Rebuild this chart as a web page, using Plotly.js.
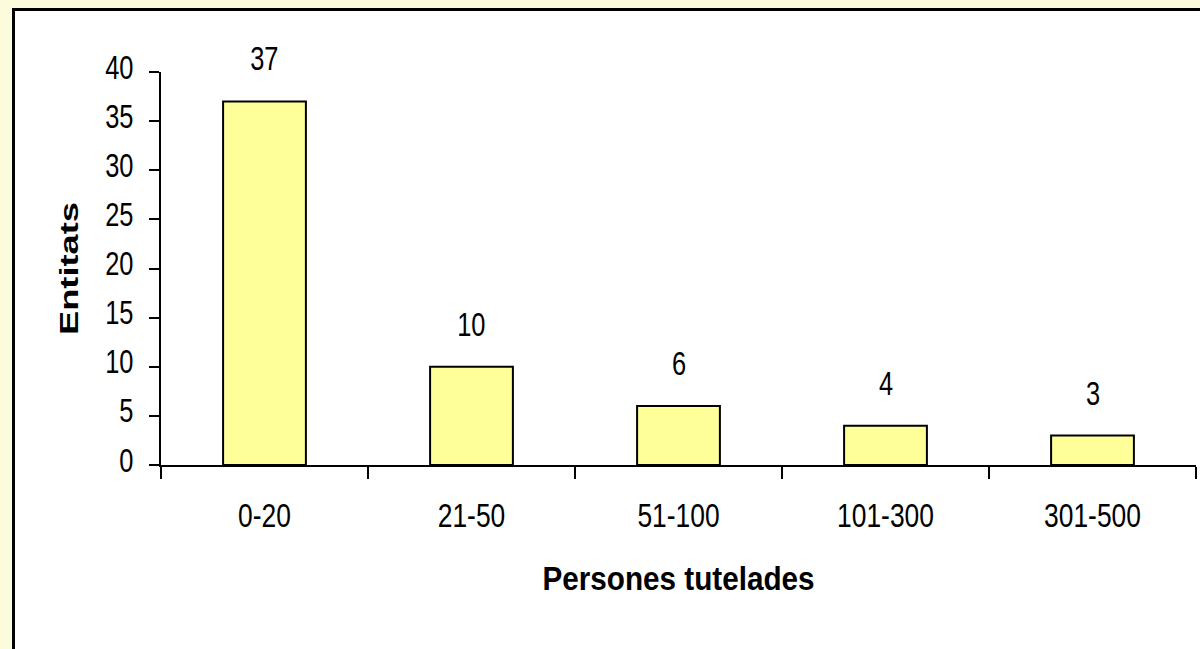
<!DOCTYPE html>
<html>
<head>
<meta charset="utf-8">
<script src="https://cdn.plot.ly/plotly-3.0.1.min.js"></script>
<style>
  html, body { margin: 0; padding: 0; width: 1200px; height: 649px; overflow: hidden; }
  body { background: #FCFCDC; position: relative; }
  #frame { position: absolute; left: 12px; top: 8px; width: 1300px; height: 800px;
           background: #ffffff; border-left: 3px solid #000; border-top: 3px solid #000; }
  #chart { position: absolute; left: 0; top: 0; width: 1200px; height: 649px; }
</style>
</head>
<body>
<div id="frame"></div>
<div id="chart"></div>
<script>
const categories = ["0-20", "21-50", "51-100", "101-300", "301-500"];
const entitats = [37, 10, 6, 4, 3];
const yTicks = [0, 5, 10, 15, 20, 25, 30, 35, 40];

const FONT = '"Liberation Sans", Arial, sans-serif';
const NUM_SIZE = 33;

const trace = {
  type: 'bar',
  x: categories,
  y: entitats,
  marker: { color: '#FFFF99', line: { color: '#000', width: 2 } },
  hoverinfo: 'none'
};

const annotations = categories.map((c, i) => ({
  x: c, y: entitats[i], xref: 'x', yref: 'y',
  text: String(entitats[i]),
  showarrow: false, yanchor: 'bottom', xanchor: 'center',
  yshift: 22,
  font: { family: FONT, size: NUM_SIZE, color: '#000' }
}));

const layout = {
  width: 1200, height: 649,
  paper_bgcolor: 'rgba(0,0,0,0)',
  plot_bgcolor: 'rgba(0,0,0,0)',
  margin: { l: 161, r: 4, t: 72, b: 184 },
  bargap: 0.6,
  showlegend: false,
  font: { family: FONT, color: '#000' },
  annotations: annotations,
  xaxis: {
    type: 'category',
    showline: true, linecolor: '#000', linewidth: 2,
    ticks: 'outside', ticklen: 12, tickwidth: 2, tickcolor: '#000',
    tickson: 'boundaries',
    ticklabelstandoff: 20,
    showgrid: false, zeroline: false,
    tickfont: { family: FONT, size: NUM_SIZE, color: '#000' },
    title: { text: 'Persones tutelades', font: { family: FONT, size: 33, color: '#000', weight: 'bold' }, standoff: 34 }
  },
  yaxis: {
    range: [0, 40],
    tickvals: yTicks,
    ticktext: yTicks.map(String),
    showline: true, linecolor: '#000', linewidth: 2,
    ticks: 'outside', ticklen: 10, tickwidth: 2, tickcolor: '#000',
    ticklabelstandoff: 9,
    ticklabelshift: -5,
    showgrid: false, zeroline: false,
    tickfont: { family: FONT, size: NUM_SIZE, color: '#000' },
    title: { text: 'Entitats', font: { family: FONT, size: 25, color: '#000', weight: 'bold' }, standoff: 11 }
  }
};

// Condense text horizontally (along its baseline) around its anchor point.
function condense(sel, sx) {
  document.querySelectorAll(sel).forEach(t => {
    const x = parseFloat(t.getAttribute('x') || 0);
    const y = parseFloat(t.getAttribute('y') || 0);
    const prev = t.getAttribute('transform') || '';
    t.setAttribute('transform', prev + ` translate(${x},${y}) scale(${sx},1) translate(${-x},${-y})`);
  });
}

Plotly.newPlot('chart', [trace], layout, { displayModeBar: false, staticPlot: true }).then(() => {
  condense('#chart .xtick text', 0.8);
  condense('#chart .ytick text', 0.77);
  condense('#chart .annotation-text', 0.77);
  condense('#chart text.xtitle', 0.9);
  condense('#chart text.ytitle', 1.45);
});
</script>
</body>
</html>
